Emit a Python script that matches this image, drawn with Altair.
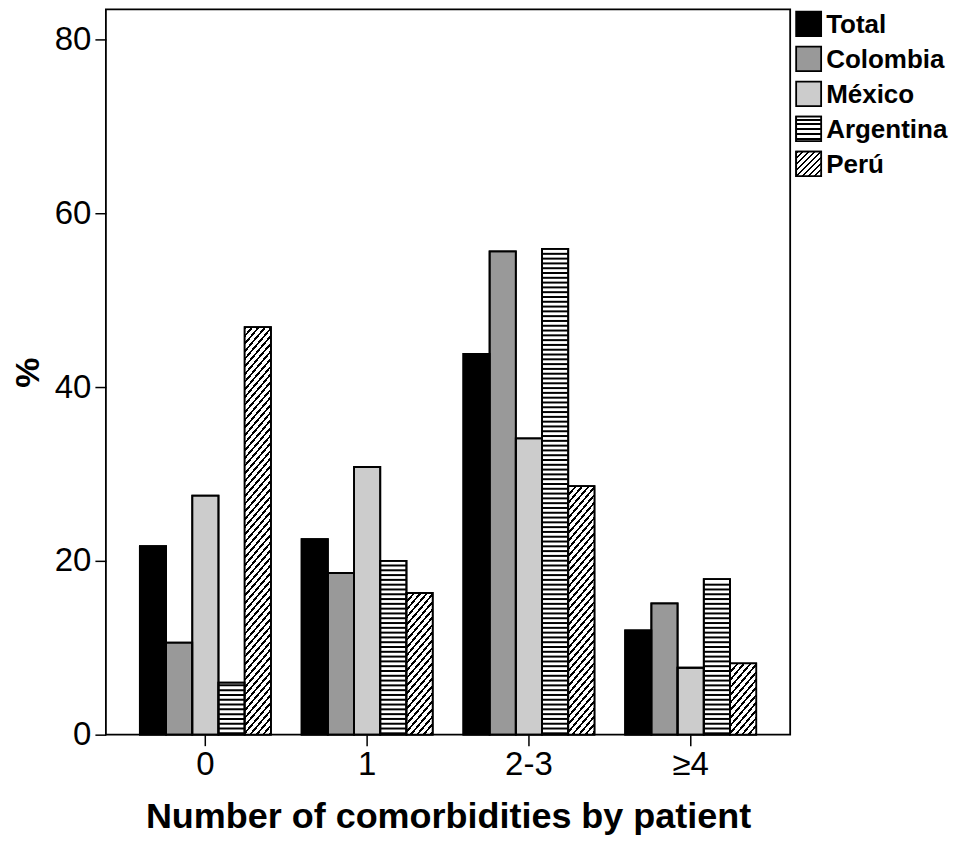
import altair as alt
import pandas as pd

# ---------------- data ----------------
categories = ["0", "1", "2-3", "≥4"]
series = ["Total", "Colombia", "México", "Argentina", "Perú"]
total = [21.7, 22.5, 43.8, 12.0]
colombia = [10.6, 18.6, 55.6, 15.1]
mexico = [27.5, 30.8, 34.1, 7.7]
argentina = [6.0, 20.0, 55.9, 17.9]
peru = [46.9, 16.3, 28.6, 8.2]
y_ticks = [0, 20, 40, 60, 80]
fills = ["#000000", "#999999", "#cccccc", "#ffffff", "#ffffff"]

# ---------------- layout ----------------
W, H = 685, 726
YMAX = 83.45
PX = H / YMAX
P_IN, P_OUT = 0.19, 0.21
STEP = W / (len(categories) - P_IN + 2 * P_OUT)
BAR_W = STEP * (1 - P_IN) / len(series)
FONT = "Liberation Sans"
SW = 1.8

values = {"Total": total, "Colombia": colombia, "México": mexico,
          "Argentina": argentina, "Perú": peru}
rows = []
for s in series:
    for c, v in zip(categories, values[s]):
        rows.append({"category": c, "series": s, "value": v})
df = pd.DataFrame(rows)

# horizontal stripes for Argentina (derived from its values)
PERIOD_H = 4.8 / PX
THICK_H = 2.0 / PX
stripe_rows = []
for c, v in zip(categories, argentina):
    y = 0.35 / PX
    while y + THICK_H < v - 0.4 / PX:
        stripe_rows.append({"category": c, "series": "Argentina", "y0": y, "y1": y + THICK_H})
        y += PERIOD_H
stripe_df = pd.DataFrame(stripe_rows)


def diag_gradient(w, h, period=6.5, lw=2.4, a=0.85):
    F = w + a * h
    k = F / (w * w + a * a * h * h)
    stops = []
    pos = 0.0
    while pos < F:
        s0 = pos / F
        s1 = min((pos + lw) / F, 1.0)
        stops += [
            {"offset": s0, "color": "#ffffff"},
            {"offset": s0, "color": "#000000"},
            {"offset": s1, "color": "#000000"},
            {"offset": s1, "color": "#ffffff"},
        ]
        pos += period
    return {"gradient": "linear", "x1": 0, "y1": 0, "x2": k * w, "y2": k * a * h, "stops": stops}


def horiz_gradient(h, period=4.8, lw=2.0):
    stops = []
    pos = 2.0
    while pos < h:
        s0 = pos / h
        s1 = min((pos + lw) / h, 1.0)
        stops += [
            {"offset": s0, "color": "#ffffff"},
            {"offset": s0, "color": "#000000"},
            {"offset": s1, "color": "#000000"},
            {"offset": s1, "color": "#ffffff"},
        ]
        pos += period
    return {"gradient": "linear", "x1": 0, "y1": 0, "x2": 0, "y2": 1, "stops": stops}


x_enc = alt.X(
    "category:N", sort=categories,
    scale=alt.Scale(domain=categories, paddingInner=P_IN, paddingOuter=P_OUT),
    axis=alt.Axis(title="Number of comorbidities by patient", labelAngle=0,
                  labelFontSize=33, labelColor="black", labelFont=FONT,
                  tickColor="black", tickSize=11, tickWidth=1.5, domain=False,
                  labelPadding=3, titleFontSize=36, titleFontWeight="bold",
                  titleColor="black", titleFont=FONT, titlePadding=18),
)
xo_enc = alt.XOffset("series:N", sort=series,
                     scale=alt.Scale(domain=series, paddingInner=0, paddingOuter=0))
y_axis = alt.Axis(values=y_ticks, title="%", grid=False, domain=False, tickSize=11,
                  tickWidth=1.5, tickColor="black", labelFontSize=33, labelColor="black",
                  labelFont=FONT, labelPadding=4, titleFontSize=34, titleFontWeight="bold",
                  titleColor="black", titleFont=FONT, titlePadding=9)
y_scale = alt.Scale(domain=[0, YMAX], nice=False, zero=True)

base = alt.Chart(df).mark_bar(stroke="black", strokeWidth=SW).encode(
    x=x_enc, xOffset=xo_enc,
    y=alt.Y("value:Q", scale=y_scale, axis=y_axis),
    fill=alt.Fill("series:N", scale=alt.Scale(domain=series, range=fills), legend=None),
)

stripes = alt.Chart(stripe_df).mark_bar(color="black").encode(
    x=x_enc, xOffset=xo_enc,
    y=alt.Y("y0:Q", scale=y_scale, axis=y_axis), y2="y1:Q",
)

peru_layers = []
for c, v in zip(categories, peru):
    g = diag_gradient(BAR_W, v * PX)
    peru_layers.append(
        alt.Chart(df).transform_filter(
            (alt.datum.series == "Perú") & (alt.datum.category == c)
        ).mark_bar(fill=g).encode(
            x=x_enc, xOffset=xo_enc,
            y=alt.Y("value:Q", scale=y_scale, axis=y_axis),
        )
    )

outline = alt.Chart(df).mark_bar(fillOpacity=0, stroke="black", strokeWidth=SW).encode(
    x=x_enc, xOffset=xo_enc,
    y=alt.Y("value:Q", scale=y_scale, axis=y_axis),
)

main = alt.layer(base, stripes, *peru_layers, outline).properties(
    width=W, height=H,
    view=alt.ViewBackground(stroke="black", strokeWidth=SW),
)

# ---------------- legend ----------------
leg_df = pd.DataFrame({"series": series, "fill": fills})
LEG_H = 169
leg_y = alt.Y("series:N", sort=series,
              scale=alt.Scale(domain=series, paddingInner=0.3, paddingOuter=0.06), axis=None)
SW_X0, SW_X1 = 3, 28
sw_h = LEG_H / (len(series) - 0.3 + 0.12) * 0.7

leg_sw = alt.Chart(leg_df).mark_bar(stroke="black", strokeWidth=SW).encode(
    y=leg_y, x=alt.value(SW_X0), x2=alt.value(SW_X1),
    fill=alt.Fill("fill:N", scale=None),
)
leg_arg = alt.Chart(leg_df).transform_filter(alt.datum.series == "Argentina").mark_bar(
    fill=horiz_gradient(sw_h), stroke="black", strokeWidth=SW
).encode(y=leg_y, x=alt.value(SW_X0), x2=alt.value(SW_X1))
leg_peru = alt.Chart(leg_df).transform_filter(alt.datum.series == "Perú").mark_bar(
    fill=diag_gradient(SW_X1 - SW_X0, sw_h, period=6.0, lw=2.2, a=1.0), stroke="black", strokeWidth=SW
).encode(y=leg_y, x=alt.value(SW_X0), x2=alt.value(SW_X1))
leg_txt = alt.Chart(leg_df).mark_text(
    align="left", baseline="middle", fontSize=26, fontWeight="bold", font=FONT, color="black",
    dy=1
).encode(y=leg_y, x=alt.value(33), text="series:N")

legend = alt.layer(leg_sw, leg_arg, leg_peru, leg_txt).properties(
    width=156, height=LEG_H,
    view=alt.ViewBackground(stroke="transparent", strokeWidth=0),
)

chart = alt.hconcat(main, legend, spacing=2).properties(
    padding={"left": 2, "top": 0, "right": 0, "bottom": 0}
).configure(font=FONT, padding=0).configure_view(stroke="transparent")

chart.save("out.html", embed_options={"renderer": "svg", "actions": False})
